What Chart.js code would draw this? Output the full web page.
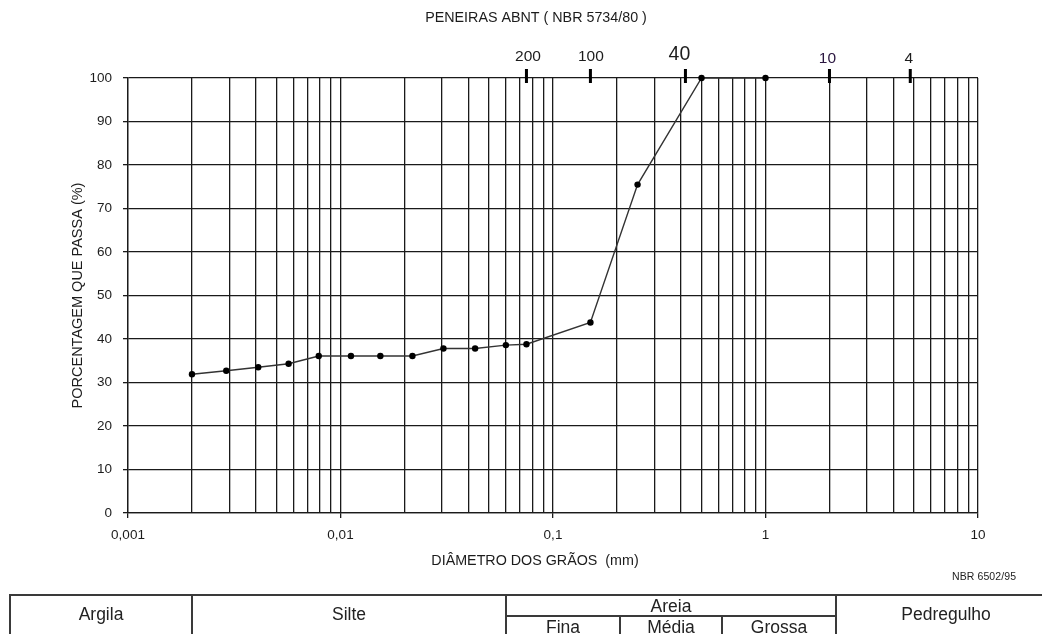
<!DOCTYPE html>
<html><head><meta charset="utf-8">
<script src="https://cdn.jsdelivr.net/npm/chart.js@4/dist/chart.umd.min.js"></script>
<style>
html,body{margin:0;padding:0;background:#fff;}
#wrap{position:relative;width:1042px;height:634px;overflow:hidden;font-family:"Liberation Sans",Arial,sans-serif;}
#c{position:absolute;left:0;top:0;}
#nbr{position:absolute;left:952px;top:570px;font-size:10.5px;color:#222;letter-spacing:0.1px;}
table{position:absolute;left:9px;top:594px;border-collapse:collapse;table-layout:fixed;width:1046px;}
td{border:2px solid #3a3a3a;text-align:center;font-size:17.5px;color:#222;padding:0;line-height:18px;overflow:hidden;white-space:nowrap;}
td.rs{padding-bottom:5px;}
tr.r1 td{height:19px;}
tr.r2 td{height:20px;}
</style></head>
<body><div id="wrap"><canvas id="c" width="1042" height="634" style="width:1042px;height:634px"></canvas>
<div id="nbr">NBR 6502/95</div>
<table>
<colgroup><col style="width:182px"><col style="width:314px"><col style="width:114px"><col style="width:102px"><col style="width:114px"><col style="width:220px"></colgroup>
<tr class="r1"><td rowspan="2" class="rs">Argila</td><td rowspan="2" class="rs">Silte</td><td colspan="3">Areia</td><td rowspan="2" class="rs">Pedregulho</td></tr>
<tr class="r2"><td>Fina</td><td>Média</td><td>Grossa</td></tr>
</table>
</div>
<script>
// ---- data ----
const grainDiameters = [0.002, 0.0029, 0.0041, 0.0057, 0.0079, 0.0112, 0.0154, 0.0218, 0.0305, 0.043, 0.06, 0.075, 0.15, 0.25, 0.5, 1.0];
const percentPassing = [31.9, 32.7, 33.5, 34.3, 36.1, 36.1, 36.1, 36.1, 37.8, 37.8, 38.6, 38.8, 43.8, 75.5, 100, 100];
const xTickValues = [0.001, 0.01, 0.1, 1, 10];
const xTickLabels = ['0,001', '0,01', '0,1', '1', '10'];
const yTickValues = [0, 10, 20, 30, 40, 50, 60, 70, 80, 90, 100];
const sieveLabels = ['200', '100', '40', '10', '4'];
const sieveSizes = [0.075, 0.15, 0.42, 2.0, 4.8];
const chartTitle = 'PENEIRAS ABNT ( NBR 5734/80 )';
const xAxisTitle = 'DIÂMETRO DOS GRÃOS  (mm)';
const yAxisTitle = 'PORCENTAGEM QUE PASSA (%)';

const FONT = '"Liberation Sans", Arial, sans-serif';
const GRID = '#1a1a1a';
const TXT = '#1c1c1c';

function majorIndex(v){
  for (let i=0;i<xTickValues.length;i++){
    if (Math.abs(Math.log10(v)-Math.log10(xTickValues[i]))<1e-6) return i;
  }
  return -1;
}

// sieve label style tweaks (per label)
const sieveStyle = [
  {dx:1.5, cy:56.5, size:15.5, color:TXT},
  {dx:0.5, cy:56.5, size:15.5, color:TXT},
  {dx:-6, cy:55, size:19.5, color:TXT},
  {dx:-2, cy:58.5, size:15.5, color:'#2a1640'},
  {dx:-1.5, cy:58.5, size:15.5, color:TXT}
];

const extrasPlugin = {
  id:'extras',
  afterDatasetsDraw(chart){
    const {ctx, scales:{x}, chartArea} = chart;
    ctx.save();
    sieveSizes.forEach((s,i)=>{
      const px = x.getPixelForValue(s);
      ctx.fillStyle = '#000';
      ctx.fillRect(px-1.5, chartArea.top-9, 3, 14);
      const st = sieveStyle[i];
      ctx.font = st.size + 'px ' + FONT;
      ctx.fillStyle = st.color;
      ctx.textAlign = 'center';
      ctx.textBaseline = 'middle';
      ctx.fillText(sieveLabels[i], px+st.dx, st.cy);
    });
    ctx.fillStyle = TXT;
    ctx.textAlign = 'center';
    ctx.textBaseline = 'middle';
    ctx.font = '14.3px ' + FONT;
    ctx.fillText(chartTitle, 536, 17.7);
    ctx.fillText(xAxisTitle, 535, 560.7);
    ctx.restore();
  }
};

new Chart(document.getElementById('c'), {
  type:'line',
  data:{
    datasets:[{
      data: grainDiameters.map((d,i)=>({x:d, y:percentPassing[i]})),
      borderColor:'#333',
      borderWidth:1.4,
      pointRadius:3.2,
      pointBackgroundColor:'#000',
      pointBorderWidth:0,
      tension:0,
      clip:false
    }]
  },
  options:{
    responsive:false,
    animation:false,
    devicePixelRatio:1,
    layout:{padding:{top:78,left:0,right:64,bottom:44}},
    plugins:{
      legend:{display:false},
      tooltip:{enabled:false},
      title:{display:false}
    },
    scales:{
      x:{
        type:'logarithmic', min:0.001, max:10,
        afterFit(s){ s.height = 77; },
        afterBuildTicks(scale){
          const t=[];
          for (let e=-3;e<=1;e++){
            for (let m=1;m<=9;m++){
              t.push({value: +(m*Math.pow(10,e)).toPrecision(3)});
              if (e===1) break;
            }
          }
          scale.ticks = t;
        },
        ticks:{autoSkip:false, maxRotation:0, padding:9, color:TXT,
          font:{family:FONT, size:13.5},
          callback(v){ const i=majorIndex(v); return i>=0 ? xTickLabels[i] : ''; }},
        grid:{color:GRID, lineWidth:1.3, tickLength:5,
          tickColor(ctx){ return (ctx.tick && majorIndex(ctx.tick.value)>=0) ? GRID : 'rgba(0,0,0,0)'; }},
        border:{display:true, color:GRID, width:1.3},
        title:{display:false}
      },
      y:{
        min:0, max:100,
        afterFit(s){ s.width = 128; },
        afterBuildTicks(scale){ scale.ticks = yTickValues.map(v=>({value:v})); },
        ticks:{padding:11, color:TXT, font:{family:FONT, size:13.5}},
        grid:{color:GRID, lineWidth:1.3, tickLength:5, tickColor:GRID},
        border:{display:true, color:GRID, width:1.3},
        title:{display:true, text:yAxisTitle, color:TXT,
          font:{family:FONT, size:14.5}, padding:{top:69,bottom:0}}
      }
    }
  },
  plugins:[extrasPlugin]
});
</script>
</body></html>
